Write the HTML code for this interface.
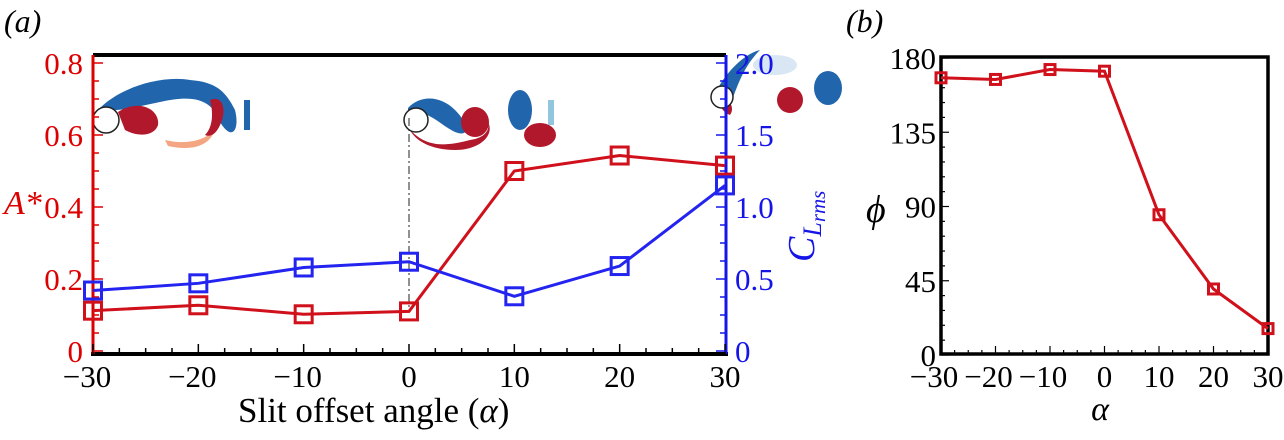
<!DOCTYPE html>
<html><head><meta charset="utf-8"><style>
body{margin:0;background:#fff;}
svg{display:block;font-family:"Liberation Serif",serif;}
</style></head><body>
<svg id="fig" width="1284" height="440" viewBox="0 0 1284 440">
<text x="4" y="32" font-size="32" font-style="italic">(a)</text>
<text x="846" y="32" font-size="32" font-style="italic">(b)</text>
<g id="insets">
 <g>
  <path d="M100,108 C120,88 160,75 190,80 C215,82 225,90 235,110 C240,130 232,142 220,122 C212,100 195,94 160,102 C140,106 120,112 100,110Z" fill="#2166ac"/>
  <path d="M118,112 C140,98 160,110 158,125 C155,135 140,138 125,130Z" fill="#b2182b"/>
  <path d="M165,140 C190,146 210,138 215,128 C212,144 195,152 168,146Z" fill="#f4a582"/>
  <path d="M210,100 C222,95 226,108 222,120 C218,132 212,138 205,135 C212,128 214,115 210,100Z" fill="#b2182b"/>
  <rect x="244" y="100" width="6" height="30" fill="#2166ac"/>
  <circle cx="106" cy="120" r="13" fill="#fff" stroke="#222" stroke-width="1.5"/>
 </g>
 <g>
  <path d="M408,108 C420,95 440,95 455,110 C470,125 470,138 455,132 C440,125 430,110 408,112Z" fill="#2166ac"/>
  <path d="M410,130 C425,145 440,148 470,140 C485,138 490,130 488,122 C495,135 480,150 455,150 C430,150 415,140 410,130Z" fill="#b2182b"/>
  <ellipse cx="475" cy="122" rx="14" ry="15" fill="#b2182b"/>
  <ellipse cx="520" cy="110" rx="12" ry="20" fill="#2166ac"/>
  <ellipse cx="540" cy="135" rx="16" ry="12" fill="#b2182b"/>
  <rect x="548" y="100" width="6" height="25" fill="#92c5de"/>
  <circle cx="416" cy="120" r="12" fill="#fff" stroke="#222" stroke-width="1.5"/>
 </g>
 <g>
  <path d="M712,100 C720,80 740,55 760,50 C740,70 735,95 728,110Z" fill="#2166ac"/>
  <path d="M722,95 C730,100 735,108 730,115 C722,112 718,105 722,95Z" fill="#b2182b"/>
  <ellipse cx="790" cy="100" rx="13" ry="13" fill="#b2182b"/>
  <ellipse cx="828" cy="88" rx="14" ry="17" fill="#2166ac"/>
  <ellipse cx="775" cy="65" rx="22" ry="10" fill="#d8e7f3"/>
  <circle cx="722" cy="97" r="11" fill="#fff" stroke="#222" stroke-width="1.5"/>
 </g>
</g>
<g id="pa"></g>
<g id="pb"></g>
</svg>
<script>
const alphas=[-30,-20,-10,0,10,20,30];
const aStar=[0.112,0.127,0.102,0.11,0.50,0.543,0.515];
const clrms=[0.42,0.47,0.58,0.62,0.38,0.59,1.15];
const phi=[168,167,173,172,85,40,16];
const xTicks=[-30,-20,-10,0,10,20,30];
const aTicks=[0,0.2,0.4,0.6,0.8];
const aTickLabels=["0","0.2","0.4","0.6","0.8"];
const cTicks=[0,0.5,1.0,1.5,2.0];
const cTickLabels=["0","0.5","1.0","1.5","2.0"];
const pTicks=[0,45,90,135,180];

const NS="http://www.w3.org/2000/svg";
function mk(p,t,a,txt){const e=document.createElementNS(NS,t);for(const k in a)e.setAttribute(k,a[k]);if(txt!==undefined)e.textContent=txt;p.appendChild(e);return e;}
const fmt=v=>v<0?"\u2212"+(-v):""+v;
const RED="#d0101a",BLUE="#2424f0",AX_RED="#dd0000",AX_BLUE="#1515e8";
const FS=31;

// Panel A
const A=document.getElementById('pa');
const xa=v=>93+(v+30)/60*(725-93);
const ya=v=>351-v*360;
const yc=v=>351-v*144;
const L=93,R=726,T=55,B=354;
let e;
e=mk(A,'line',{x1:L,y1:T,x2:R,y2:T,stroke:'#000','stroke-width':4});

e=mk(A,'line',{x1:L-2,y1:B,x2:R+2,y2:B,stroke:'#000','stroke-width':4});

e=mk(A,'line',{x1:L,y1:T,x2:L,y2:B,stroke:AX_RED,'stroke-width':3});

e=mk(A,'line',{x1:R,y1:T,x2:R,y2:B,stroke:AX_BLUE,'stroke-width':3});

for(let v=-30;v<=30;v+=2.5){const maj=v%10===0;mk(A,'line',{x1:xa(v),y1:B,x2:xa(v),y2:B-(maj?10:6),stroke:'#000','stroke-width':1.5});}
xTicks.forEach(v=>{e=mk(A,'text',{x:xa(v)-(v<0?6:0),y:387,'font-size':FS,'text-anchor':'middle'},fmt(v));
});
for(let v=0;v<=0.8001;v+=0.05){mk(A,'line',{x1:L,y1:ya(v),x2:L+(Math.abs(v*10-Math.round(v*10))<1e-6&&Math.round(v*10)%2===0?10:6),y2:ya(v),stroke:AX_RED,'stroke-width':1.5});}
aTicks.forEach((v,i)=>{e=mk(A,'text',{x:83,y:ya(v)+11,'font-size':FS,'text-anchor':'end',fill:AX_RED},aTickLabels[i]);
});
for(let v=0;v<=2.0001;v+=0.125){mk(A,'line',{x1:R,y1:yc(v),x2:R-(Math.abs(v*2-Math.round(v*2))<1e-6?10:6),y2:yc(v),stroke:AX_BLUE,'stroke-width':1.5});}
cTicks.forEach((v,i)=>{e=mk(A,'text',{x:735,y:yc(v)+11,'font-size':FS,fill:AX_BLUE},cTickLabels[i]);
});
e=mk(A,'text',{x:238,y:422,'font-size':35},'Slit offset angle (');

mk(e,'tspan',{'font-style':'italic'},'\u03b1');mk(e,'tspan',{},')');
e=mk(A,'text',{x:4,y:214,'font-size':34,fill:AX_RED,'font-style':'italic'},'A*');

e=mk(A,'text',{transform:'translate(814,262) rotate(-90)','font-size':38,fill:AX_BLUE,'font-style':'italic'},'C');

mk(e,'tspan',{'font-size':26,dy:7},'L');mk(e,'tspan',{'font-size':21,dy:4},'rms');
e=mk(A,'line',{x1:xa(0),y1:118,x2:xa(0),y2:ya(0.11),stroke:'#222','stroke-width':1,'stroke-dasharray':'8 3 2 3'});

function series(g,vals,yf,col,name,sz,sw){
 e=mk(g,'polyline',{points:vals.map((v,i)=>xa2(i)+','+yf(v)).join(' '),fill:'none',stroke:col,'stroke-width':sw});
 
 vals.forEach((v,i)=>{e=mk(g,'rect',{x:xa2(i)-sz/2,y:yf(v)-sz/2,width:sz,height:sz,fill:'none',stroke:col,'stroke-width':sw});
 });
}
let xa2=i=>xa(alphas[i]);
series(A,aStar,ya,RED,'a-star',17,3);
series(A,clrms,yc,BLUE,'cl-rms',17,3);

// Panel B
const Bg=document.getElementById('pb');
const xb=v=>941+(v+30)/60*(1268-941);
const yb=v=>355-v*1.65;
const l2=941,r2=1268,t2=57,b2=354;
e=mk(Bg,'rect',{x:l2,y:t2,width:r2-l2,height:b2-t2,fill:'none',stroke:'#000','stroke-width':3.5});

for(let v=-30;v<=30;v+=2.5){const maj=v%10===0;mk(Bg,'line',{x1:xb(v),y1:b2,x2:xb(v),y2:b2-(maj?8:4),stroke:'#000','stroke-width':1.2});}
xTicks.forEach(v=>{e=mk(Bg,'text',{x:xb(v)-(v<0?7:0),y:387,'font-size':FS,'text-anchor':'middle'},fmt(v));
});
for(let v=0;v<=180;v+=9){mk(Bg,'line',{x1:l2,y1:yb(v),x2:l2+(v%45===0?8:4),y2:yb(v),stroke:'#000','stroke-width':1.2});}
pTicks.forEach(v=>{e=mk(Bg,'text',{x:936,y:yb(v)+11,'font-size':FS,'text-anchor':'end'},String(v));
});
e=mk(Bg,'text',{x:1100,y:420,'font-size':34,'font-style':'italic','text-anchor':'middle'},'\u03b1');

e=mk(Bg,'text',{x:866,y:222,'font-size':38,'font-style':'italic'},'\u03d5');

xa2=i=>xb(alphas[i]);
series(Bg,phi,yb,RED,'phi',10,3);
</script>
</body></html>
